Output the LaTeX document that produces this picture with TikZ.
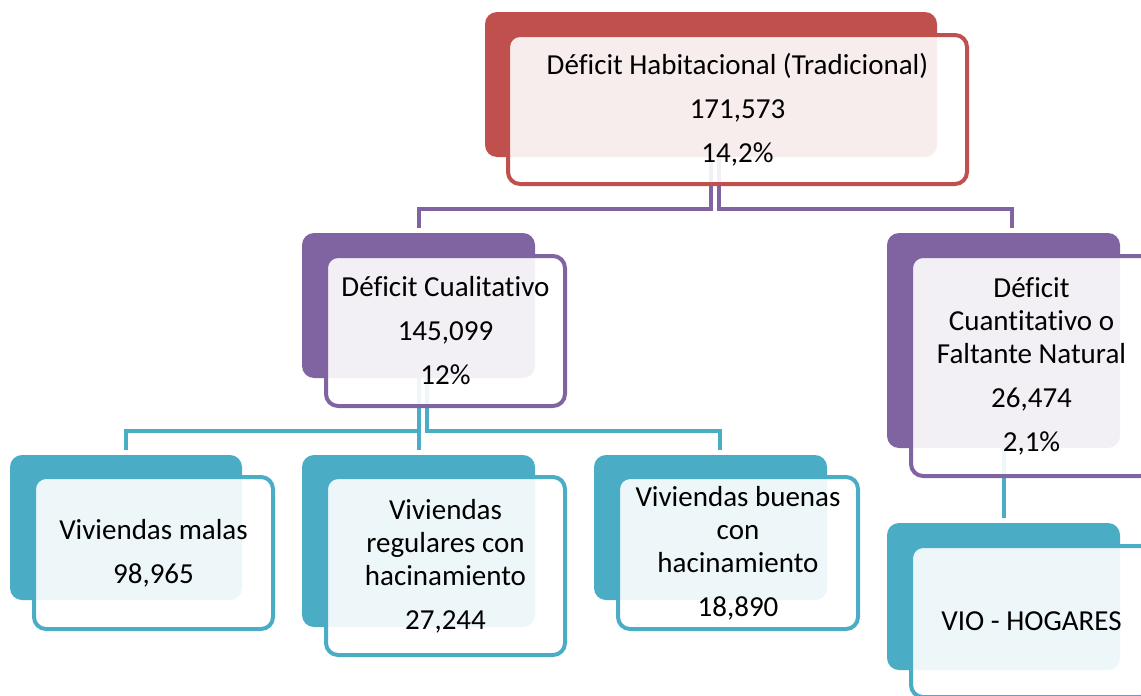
\documentclass[tikz,border=0pt]{standalone}
\usepackage{fontspec}
\setmainfont{Carlito}[Ligatures=NoCommon]
\usepackage{tikz}
\pgfdeclarelayer{bg}
\pgfsetlayers{bg,main}
\definecolor{hred}{HTML}{C0504D}
\definecolor{hpurple}{HTML}{8064A2}
\definecolor{hteal}{HTML}{4BACC6}

\begin{document}
\begin{tikzpicture}[x=1pt,y=-1pt,
		back/.style={fill=#1,rounded corners=12pt,inner sep=0pt,outer sep=0pt,anchor=north west},
		front/.style={draw=#1,line width=4pt,fill=white,fill opacity=0.9,text opacity=1,rounded corners=12pt,inner sep=0pt,outer sep=0pt,anchor=north west,align=center,font=\fontsize{29}{33}\selectfont},
		link/.style={draw=#1,line width=4pt,shorten >=5pt}]
		\useasboundingbox (0,0) rectangle (1141,696);
		% top level
		\node[back=hred,minimum width=452pt,minimum height=145pt] (topD) at (485,12) {};
		\node[front=hred,minimum width=459pt,minimum height=149pt] (top) at (508,35) {D\'eficit Habitacional (Tradicional)\\[11pt]171,573\\[11pt]14,2\%};
		% second level
		\node[back=hpurple,minimum width=233pt,minimum height=145pt] (qualD) at (302,233) {};
		\node[front=hpurple,minimum width=239pt,minimum height=150pt] (qual) at (326,256) {D\'eficit Cualitativo\\[11pt]145,099\\[11pt]12\%};
		\node[back=hpurple,minimum width=233pt,minimum height=215pt] (quantD) at (887,233) {};
		\node[front=hpurple,minimum width=241pt,minimum height=220pt] (quant) at (911,256) {D\'eficit\\Cuantitativo o\\Faltante Natural\\[11pt]26,474\\[11pt]2,1\%};
		% third level
		\node[back=hteal,minimum width=232pt,minimum height=145pt] (malasD) at (10,455) {};
		\node[front=hteal,minimum width=239pt,minimum height=152pt] (malas) at (34,477) {Viviendas malas\\[11pt]98,965};
		\node[back=hteal,minimum width=233pt,minimum height=172pt] (regD) at (302,455) {};
		\node[front=hteal,minimum width=239pt,minimum height=178pt] (reg) at (326,477) {Viviendas\\regulares con\\hacinamiento\\[11pt]27,244};
		\node[back=hteal,minimum width=233pt,minimum height=145pt] (buenasD) at (594,455) {};
		\node[front=hteal,minimum width=240pt,minimum height=152pt] (buenas) at (618,477) {Viviendas buenas\\con\\hacinamiento\\[11pt]18,890};
		\node[back=hteal,minimum width=233pt,minimum height=147pt] (vioD) at (887,523) {};
		\node[front=hteal,minimum width=241pt,minimum height=151pt] (vio) at (911,546) {VIO - HOGARES};
		% connectors
		\begin{pgfonlayer}{bg}
			\draw[link=hpurple] (topD.south) -- ++(0,52) -| (qualD.north);
			\draw[link=hpurple] ([xshift=8pt]topD.south) -- ++(0,52) -| ([xshift=8pt]quantD.north);
			\draw[link=hteal] (qualD.south) -- ++(0,53) -| (malasD.north);
			\draw[link=hteal] (qualD.south) -- (regD.north);
			\draw[link=hteal] ([xshift=8pt]qualD.south) -- ++(0,53) -| ([xshift=9pt]buenasD.north);
			\draw[link=hteal] (quantD.south) -- (vioD.north);
		\end{pgfonlayer}
	\end{tikzpicture}
\end{document}
